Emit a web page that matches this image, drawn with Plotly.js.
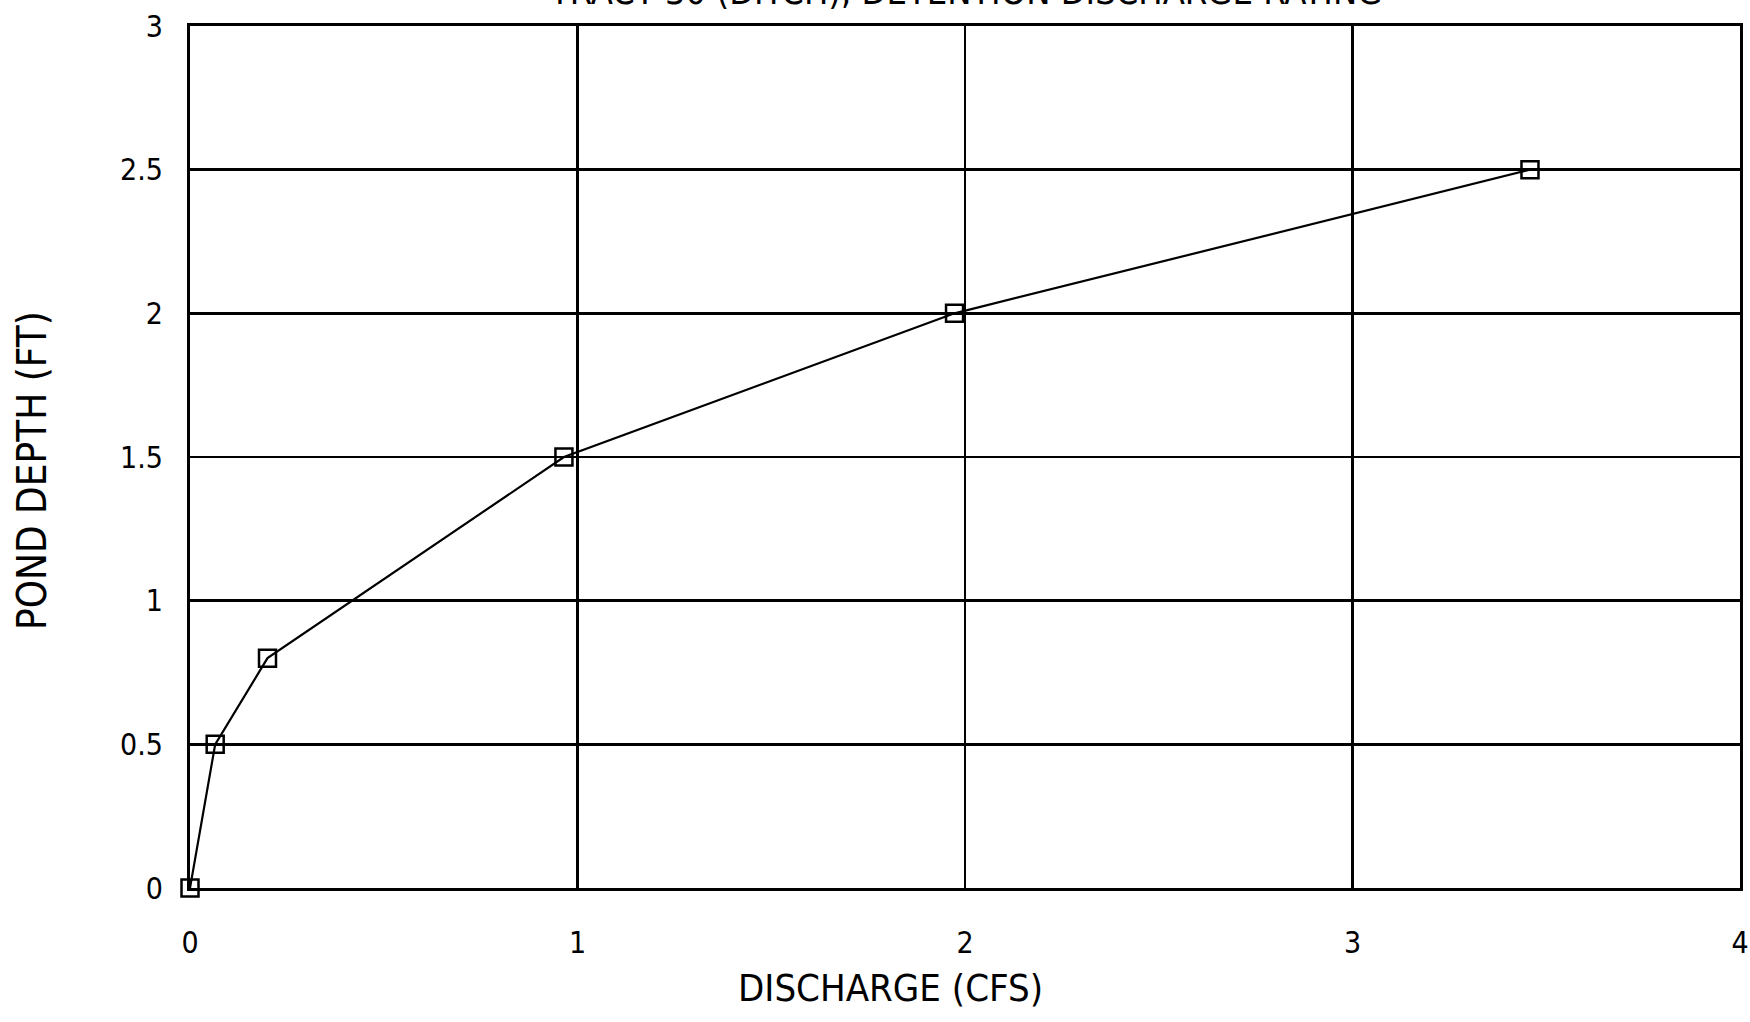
<!DOCTYPE html>
<html>
<head>
<meta charset="utf-8">
<script src="https://cdn.plot.ly/plotly-3.0.1.min.js"></script>
<style>
html,body{margin:0;padding:0;background:#fff;}
#chart{width:1750px;height:1022px;}
</style>
</head>
<body>
<div id="chart"></div>
<script>
// Data
var dischargeCfs = [0, 0.065, 0.2, 0.965, 1.973, 3.458];
var pondDepthFt = [0, 0.5, 0.8, 1.5, 2.0, 2.5];
var xTickVals = [0, 1, 2, 3, 4];
var yTickVals = [0, 0.5, 1, 1.5, 2, 2.5, 3];
var yTickText = ['0', '0.5', '1', '1.5', '2', '2.5', '3'];
var chartTitle = 'TRACT 30 (DITCH), DETENTION DISCHARGE RATING';
var xTitle = 'DISCHARGE (CFS)';
var yTitle = 'POND DEPTH (FT)';

var FONT = '"DejaVu Sans Condensed", "DejaVu Sans", sans-serif';

var trace = {
  x: dischargeCfs,
  y: pondDepthFt,
  type: 'scatter',
  mode: 'lines+markers',
  line: {color: '#000', width: 2.2},
  marker: {symbol: 'square-open', size: 17, color: '#000', line: {width: 2.5, color: '#000'}},
  cliponaxis: false,
  showlegend: false
};

var layout = {
  width: 1750,
  height: 1022,
  paper_bgcolor: '#fff',
  plot_bgcolor: '#fff',
  margin: {l: 190, r: 10, t: 26, b: 134},
  font: {family: FONT, color: '#000', size: 30},
  xaxis: {
    range: [0, 4],
    tickvals: xTickVals,
    showgrid: true,
    gridcolor: '#000',
    gridwidth: 2.8,
    zeroline: false,
    showline: true,
    linecolor: '#000',
    linewidth: 3,
    mirror: true,
    ticks: '',
    ticklabelstandoff: 26,
    ticklabeloverflow: 'allow',
    tickfont: {family: FONT, size: 30, color: '#000'}
  },
  yaxis: {
    range: [0, 3],
    tickvals: yTickVals,
    ticktext: yTickText,
    showgrid: true,
    gridcolor: '#000',
    gridwidth: 2.8,
    zeroline: false,
    showline: true,
    linecolor: '#000',
    linewidth: 3,
    mirror: true,
    ticks: '',
    ticklabelstandoff: 18,
    ticklabeloverflow: 'allow',
    tickfont: {family: FONT, size: 30, color: '#000'}
  },
  annotations: [
    {
      text: chartTitle, xref: 'paper', yref: 'paper', x: 0.5, y: 1,
      xanchor: 'center', yanchor: 'bottom', yshift: 12, showarrow: false,
      font: {family: FONT, size: 36, color: '#000'}
    },
    {
      text: xTitle, xref: 'paper', yref: 'paper', x: 0.4517, y: 0,
      xanchor: 'center', yanchor: 'middle', yshift: -100, showarrow: false,
      font: {family: FONT, size: 38, color: '#000'}
    },
    {
      text: yTitle, xref: 'paper', yref: 'paper', x: 0, y: 0.4838,
      xanchor: 'center', yanchor: 'middle', xshift: -158, textangle: -90, showarrow: false,
      font: {family: FONT, size: 40, color: '#000'}
    }
  ]
};

Plotly.newPlot('chart', [trace], layout, {displayModeBar: false, staticPlot: true});
</script>
</body>
</html>
